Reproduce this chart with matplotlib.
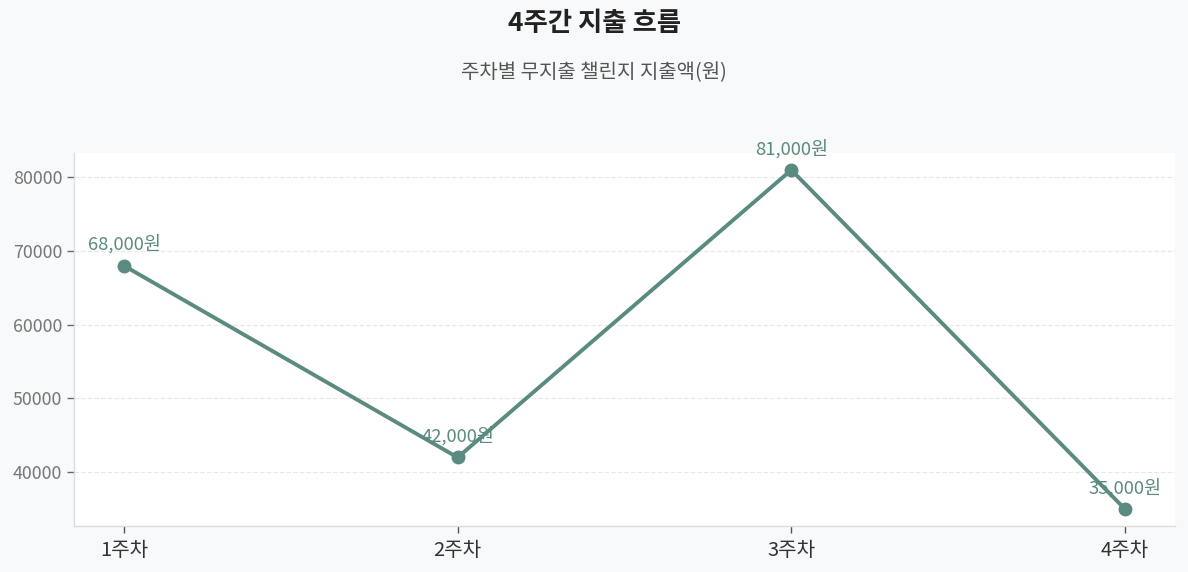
import matplotlib
matplotlib.use("Agg")
import matplotlib.pyplot as plt

weeks = ["1주차", "2주차", "3주차", "4주차"]
spend = [68000, 42000, 81000, 35000]
labels = ["68,000원", "42,000원", "81,000원", "35,000원"]

plt.rcParams['font.family'] = ['Noto Sans CJK KR', 'DejaVu Sans']

fig = plt.figure(figsize=(11.88, 5.72), dpi=100, facecolor="#f8f9fa")
ax = fig.add_axes([74/1188, 1-526/572, (1175-74)/1188, (526-153)/572])
ax.set_facecolor("white")

color = "#5b8a80"
x = list(range(len(weeks)))
ax.plot(x, spend, color=color, linewidth=2.8, marker="o", markersize=9, zorder=3)
for xi, yi, lab in zip(x, spend, labels):
    ax.annotate(lab, (xi, yi), xytext=(0, 8.5), textcoords="offset points",
                ha="center", va="bottom", color=color, fontsize=13.3)

ax.set_xticks(x)
ax.set_xticklabels(weeks, fontsize=14.5, color="#333333")
ax.set_yticks([40000, 50000, 60000, 70000, 80000])
ax.tick_params(axis="y", labelsize=12.8, colors="#777777", length=5, width=1)
ax.tick_params(axis="x", length=5, width=1, color="#555555", pad=5)
ax.tick_params(axis="y", color="#666666")
ax.grid(axis="y", linestyle="--", color="#e8e8e8", linewidth=0.9)
ax.set_axisbelow(True)
for s in ["top", "right"]:
    ax.spines[s].set_visible(False)
for s in ["left", "bottom"]:
    ax.spines[s].set_color("#dddddd")
    ax.spines[s].set_linewidth(1)

fig.text(0.5, 1-23.5/572, "4주간 지출 흐름", ha="center", va="center",
         fontsize=19, fontweight="bold", color="#222222")
fig.text(0.5, 1-72.5/572, "주차별 무지출 챌린지 지출액(원)", ha="center", va="center",
         fontsize=14.4, color="#555555")

fig.savefig("out.png", dpi=100, facecolor=fig.get_facecolor())
